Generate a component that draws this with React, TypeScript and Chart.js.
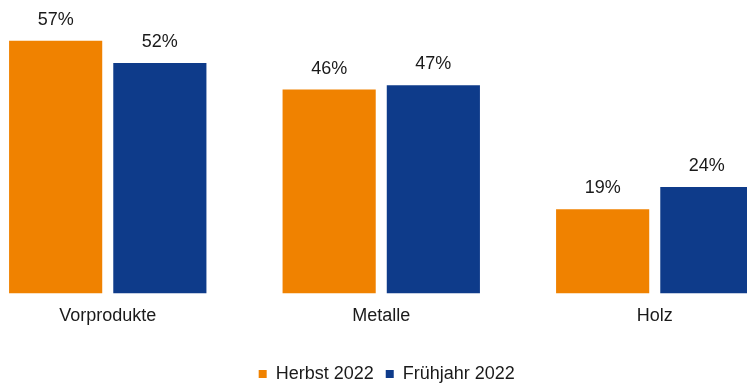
import React, { useEffect, useRef } from "react";
import { Chart, registerables } from "chart.js";

Chart.register(...registerables);

const categories = ["Vorprodukte", "Metalle", "Holz"];
const herbst2022 = [57, 46, 19];
const fruehjahr2022 = [52, 47, 24];
const seriesNames = ["Herbst 2022", "Frühjahr 2022"];

const ORANGE = "rgb(240,130,0)";
const NAVY = "rgb(14,59,138)";
const FONT = "'Liberation Sans', Arial, sans-serif";

const valueLabels = {
  id: "valueLabels",
  afterDatasetsDraw(chart: any) {
    const ctx = chart.ctx;
    ctx.save();
    ctx.font = `18px ${FONT}`;
    ctx.fillStyle = "#1a1a1a";
    ctx.textAlign = "center";
    ctx.textBaseline = "alphabetic";
    chart.data.datasets.forEach((ds: any, i: number) => {
      const meta = chart.getDatasetMeta(i);
      meta.data.forEach((bar: any, j: number) => {
        ctx.fillText(`${ds.data[j]}%`, bar.x, bar.y - 16);
      });
    });
    ctx.restore();
  },
};

const legendShift = {
  id: "legendShift",
  afterLayout(chart: any) {
    if (chart.legend) {
      chart.legend.left += 5.5;
      chart.legend.right += 5.5;
    }
  },
};

export default function App() {
  const ref = useRef<HTMLCanvasElement>(null);
  useEffect(() => {
    if (!ref.current) return;
    const chart = new Chart(ref.current, {
      type: "bar",
      data: {
        labels: categories,
        datasets: [
          { label: seriesNames[0], data: herbst2022, backgroundColor: ORANGE },
          { label: seriesNames[1], data: fruehjahr2022, backgroundColor: NAVY },
        ],
      },
      options: {
        responsive: false,
        animation: false,
        devicePixelRatio: 1,
        categoryPercentage: 0.762,
        barPercentage: 0.894,
        layout: { padding: { left: 0, right: 10.5, top: 1, bottom: 0 } },
        plugins: {
          legend: {
            position: "bottom",
            labels: {
              font: { family: FONT, size: 18 },
              color: "#1a1a1a",
              boxWidth: 8,
              boxHeight: 8,
              padding: 12,
            },
          },
          tooltip: { enabled: false },
        },
        scales: {
          x: {
            grid: { display: false, drawTicks: false },
            border: { display: false },
            ticks: {
              font: { family: FONT, size: 18 },
              color: "#1a1a1a",
              padding: 12,
            },
            afterFit: (scale: any) => {
              scale.height += 14;
            },
          },
          y: {
            display: false,
            min: 0,
            max: 66,
          },
        },
      },
      plugins: [valueLabels, legendShift],
    });
    return () => chart.destroy();
  }, []);
  return (
    <div
      style={{
        position: "fixed",
        left: 0,
        top: 0,
        width: 747,
        height: 383,
        overflow: "hidden",
        background: "#fff",
      }}
    >
      <canvas
        ref={ref}
        width={831}
        height={393}
        style={{ position: "absolute", left: -29, top: 0, width: 831, height: 393 }}
      />
    </div>
  );
}
